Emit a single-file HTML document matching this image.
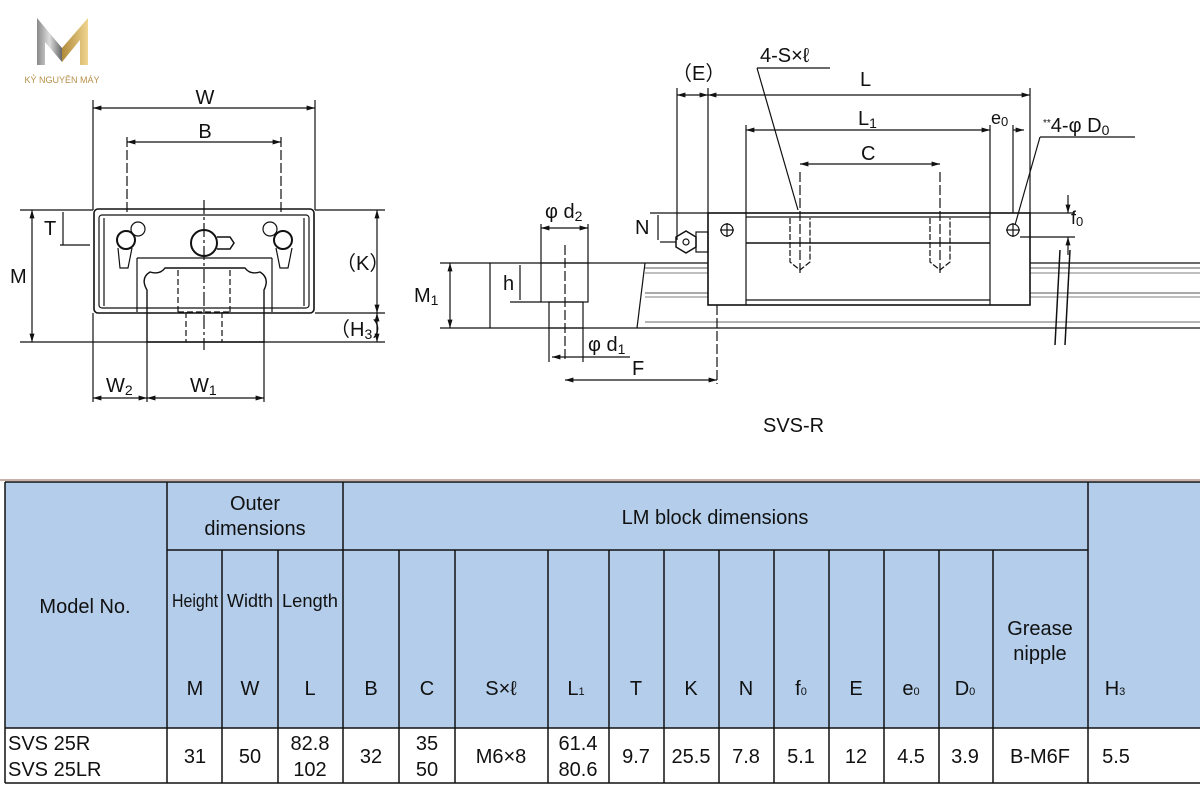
<!DOCTYPE html>
<html><head><meta charset="utf-8"><style>
html,body{margin:0;padding:0;background:#fff;width:1200px;height:800px;overflow:hidden}
svg{display:block}
text{font-family:"Liberation Sans",sans-serif;fill:#111}
</style></head><body>
<svg width="1200" height="800" viewBox="0 0 1200 800" xmlns="http://www.w3.org/2000/svg">
<defs>
<marker id="a" viewBox="0 0 10 10" refX="10" refY="5" markerWidth="7" markerHeight="7" orient="auto-start-reverse"><path d="M0,2 L10,5 L0,8z" fill="#111"/></marker>
<linearGradient id="g" x1="0" x2="1"><stop offset="0" stop-color="#888"/><stop offset=".5" stop-color="#ddd"/><stop offset="1" stop-color="#666"/></linearGradient>
<linearGradient id="gd" x1="0" x2="1"><stop offset="0" stop-color="#b08a3a"/><stop offset="1" stop-color="#f0d590"/></linearGradient>
</defs>
<!-- logo -->
<path d="M37,65 L37,18 L62,48 L62,62 L45,42 L45,65z" fill="url(#g)"/>
<path d="M62,48 L88,18 L88,65 L80,65 L80,40 L62,62z" fill="url(#gd)"/>
<text x="62" y="83" font-size="9" text-anchor="middle" style="fill:#b8904a">KỶ NGUYÊN MÁY</text>

<g stroke="#111" fill="none" stroke-width="1.2">
<!-- LEFT DRAWING -->
<line x1="93" y1="100" x2="93" y2="210"/><line x1="315" y1="100" x2="315" y2="210"/>
<line x1="93" y1="108" x2="315" y2="108" marker-start="url(#a)" marker-end="url(#a)"/>
<line x1="127" y1="137" x2="127" y2="215" stroke-dasharray="10,3"/><line x1="281" y1="137" x2="281" y2="215" stroke-dasharray="10,3"/>
<line x1="127" y1="142" x2="281" y2="142" marker-start="url(#a)" marker-end="url(#a)"/>
<rect x="94" y="209" width="220" height="104" rx="4" stroke-width="1.6"/>
<rect x="99" y="215" width="210" height="93" rx="3"/>
<line x1="104" y1="218" x2="104" y2="306"/><line x1="304" y1="218" x2="304" y2="306"/>
<line x1="137" y1="258" x2="272" y2="258"/>
<line x1="137" y1="258" x2="137" y2="312"/><line x1="272" y1="258" x2="272" y2="312"/>
<path d="M147,342 L147,290 Q140,278 150,272 Q160,275 165,268 L245,268 Q250,275 260,272 Q270,278 264,290 L264,342z" stroke-width="1.4"/>
<line x1="178" y1="270" x2="178" y2="312" stroke-dasharray="6,3"/><line x1="230" y1="270" x2="230" y2="312" stroke-dasharray="6,3"/>
<line x1="178" y1="312" x2="230" y2="312" stroke-dasharray="6,3"/>
<line x1="186" y1="312" x2="186" y2="342" stroke-dasharray="6,3"/><line x1="222" y1="312" x2="222" y2="342" stroke-dasharray="6,3"/>
<line x1="204" y1="200" x2="204" y2="350" stroke-dasharray="14,3,3,3"/>
<circle cx="204" cy="243" r="13" stroke-width="2"/><path d="M217,237 L230,237 L234,243 L230,249 L217,249" stroke-width="1.5"/>
<circle cx="126" cy="240" r="9" stroke-width="2"/><circle cx="283" cy="240" r="9" stroke-width="2"/>
<circle cx="138" cy="229" r="7"/><circle cx="270" cy="229" r="7"/>
<path d="M118,248 L120,268 L128,268 L132,248"/><path d="M276,248 L280,268 L288,268 L292,248"/>
<line x1="20" y1="210" x2="93" y2="210"/><line x1="315" y1="210" x2="385" y2="210"/>
<line x1="20" y1="342" x2="385" y2="342"/><line x1="315" y1="313" x2="385" y2="313"/>
<line x1="32" y1="210" x2="32" y2="342" marker-start="url(#a)" marker-end="url(#a)"/>
<line x1="60" y1="245" x2="90" y2="245"/>
<line x1="63" y1="212" x2="63" y2="245"/>
<line x1="377" y1="210" x2="377" y2="313" marker-start="url(#a)" marker-end="url(#a)"/>
<line x1="377" y1="313" x2="377" y2="342" marker-start="url(#a)" marker-end="url(#a)"/>
<line x1="93" y1="313" x2="93" y2="402"/><line x1="147" y1="342" x2="147" y2="402"/><line x1="264" y1="342" x2="264" y2="402"/>
<line x1="93" y1="398" x2="147" y2="398" marker-start="url(#a)" marker-end="url(#a)"/>
<line x1="147" y1="398" x2="264" y2="398" marker-start="url(#a)" marker-end="url(#a)"/>

<!-- RIGHT DRAWING -->
<line x1="490" y1="263" x2="1200" y2="263"/><line x1="490" y1="328" x2="1200" y2="328"/>
<line x1="490" y1="263" x2="490" y2="328"/>
<line x1="645" y1="268" x2="1200" y2="268" stroke="#777"/><line x1="645" y1="273" x2="1200" y2="273" stroke="#999"/>
<line x1="645" y1="293" x2="1200" y2="293" stroke="#777"/><line x1="645" y1="297" x2="1200" y2="297" stroke="#999"/>
<line x1="645" y1="322" x2="1200" y2="322" stroke="#888"/>
<path d="M645,263 L637,328"/>
<rect x="541" y="263" width="47" height="39"/>
<rect x="549" y="302" width="34" height="26"/>
<line x1="565" y1="245" x2="565" y2="360" stroke-dasharray="10,3"/>
<rect x="708" y="213" width="322" height="92" fill="#fff" stroke-width="1.6"/>
<line x1="746" y1="213" x2="746" y2="305"/><line x1="990" y1="213" x2="990" y2="305"/>
<line x1="746" y1="217" x2="990" y2="217"/><line x1="746" y1="243" x2="990" y2="243" stroke-width="1.6"/>
<line x1="746" y1="300" x2="990" y2="300"/>
<path d="M790,218 L790,262 L800,270 L810,262 L810,218" stroke-dasharray="6,2"/>
<path d="M930,218 L930,262 L940,270 L950,262 L950,218" stroke-dasharray="6,2"/>
<line x1="800" y1="172" x2="800" y2="275" stroke-dasharray="10,3"/><line x1="940" y1="172" x2="940" y2="275" stroke-dasharray="10,3"/>
<circle cx="727" cy="230" r="6"/><line x1="720" y1="230" x2="734" y2="230"/><line x1="727" y1="223" x2="727" y2="237"/>
<circle cx="1013" cy="230" r="6"/><line x1="1006" y1="230" x2="1020" y2="230"/><line x1="1013" y1="223" x2="1013" y2="237"/>
<path d="M676,237 L686,231 L696,237 L696,247 L686,253 L676,247z" stroke-width="1.5"/><circle cx="686" cy="242" r="3"/>
<rect x="696" y="232" width="12" height="20"/>
<line x1="677" y1="88" x2="677" y2="240"/><line x1="708" y1="88" x2="708" y2="213"/><line x1="1030" y1="88" x2="1030" y2="213"/>
<line x1="677" y1="95" x2="708" y2="95" marker-start="url(#a)" marker-end="url(#a)"/>
<line x1="708" y1="95" x2="1030" y2="95" marker-start="url(#a)" marker-end="url(#a)"/>
<line x1="746" y1="125" x2="746" y2="213"/><line x1="990" y1="125" x2="990" y2="213"/><line x1="1013" y1="125" x2="1013" y2="213"/>
<line x1="746" y1="130" x2="990" y2="130" marker-start="url(#a)" marker-end="url(#a)"/>
<line x1="1013" y1="130" x2="1024" y2="130" marker-end="url(#a)"/>
<line x1="800" y1="164" x2="940" y2="164" marker-start="url(#a)" marker-end="url(#a)"/>
<line x1="757" y1="68" x2="830" y2="68"/><line x1="757" y1="68" x2="798" y2="210"/>
<line x1="1040" y1="137" x2="1135" y2="137"/><line x1="1040" y1="137" x2="1015" y2="225"/>
<line x1="650" y1="213" x2="708" y2="213"/><line x1="660" y1="242" x2="676" y2="242"/>
<line x1="658" y1="215" x2="658" y2="240"/>
<line x1="1030" y1="213" x2="1075" y2="213"/><line x1="1020" y1="237" x2="1075" y2="237"/>
<line x1="1068" y1="195" x2="1068" y2="213" marker-end="url(#a)"/><line x1="1068" y1="255" x2="1068" y2="237" marker-end="url(#a)"/>
<path d="M1060,250 L1055,345 M1070,250 L1065,345" stroke-width="1.5"/>
<line x1="541" y1="224" x2="541" y2="263"/><line x1="588" y1="224" x2="588" y2="263"/>
<line x1="541" y1="228" x2="588" y2="228" marker-start="url(#a)" marker-end="url(#a)"/>
<line x1="510" y1="302" x2="541" y2="302"/>
<line x1="520" y1="265" x2="520" y2="300"/>
<line x1="440" y1="263" x2="490" y2="263"/><line x1="440" y1="328" x2="490" y2="328"/>
<line x1="450" y1="263" x2="450" y2="328" marker-start="url(#a)" marker-end="url(#a)"/>
<line x1="549" y1="328" x2="549" y2="362"/><line x1="583" y1="328" x2="583" y2="362"/>
<line x1="552" y1="357" x2="630" y2="357" marker-start="url(#a)"/>
<line x1="717" y1="305" x2="717" y2="384" stroke-dasharray="10,3"/>
<line x1="565" y1="380" x2="717" y2="380" marker-start="url(#a)" marker-end="url(#a)"/>
</g>

<g font-size="20">
<text x="205" y="104" text-anchor="middle">W</text>
<text x="205" y="138" text-anchor="middle">B</text>
<text x="44" y="235">T</text>
<text x="10" y="283">M</text>
<text x="336" y="270">（K）</text>
<text x="330" y="336">（H<tspan font-size="14" dy="3">3</tspan><tspan dy="-3">）</tspan></text>
<text x="106" y="392">W<tspan font-size="14" dy="3">2</tspan></text>
<text x="190" y="392">W<tspan font-size="14" dy="3">1</tspan></text>
<text x="672" y="80">（E）</text>
<text x="860" y="86">L</text>
<text x="858" y="125">L<tspan font-size="14" dy="3">1</tspan></text>
<text x="991" y="124" font-size="18">e<tspan font-size="13" dy="2">0</tspan></text>
<text x="861" y="160">C</text>
<text x="760" y="62">4-S×ℓ</text>
<text x="1043" y="132"><tspan font-size="10" dy="-6">**</tspan><tspan dy="6">4-φ D</tspan><tspan font-size="14" dy="3">0</tspan></text>
<text x="635" y="234">N</text>
<text x="1071" y="224" font-size="18">f<tspan font-size="13" dy="2">0</tspan></text>
<text x="545" y="218">φ d<tspan font-size="14" dy="3">2</tspan></text>
<text x="503" y="290">h</text>
<text x="414" y="302">M<tspan font-size="14" dy="3">1</tspan></text>
<text x="588" y="351">φ d<tspan font-size="14" dy="3">1</tspan></text>
<text x="632" y="375">F</text>
<text x="763" y="432">SVS-R</text>
</g>

<!-- TABLE -->
<line x1="0" y1="480" x2="1200" y2="480" stroke="#c9b0a8" stroke-width="2"/>
<rect x="5" y="482" width="1195" height="246" fill="#b3cdea"/>
<rect x="5" y="728" width="1195" height="55" fill="#fff"/>
<g stroke="#111" stroke-width="1.5" fill="none">
<line x1="5" y1="482" x2="1200" y2="482"/>
<line x1="5" y1="728" x2="1200" y2="728"/>
<line x1="5" y1="783" x2="1200" y2="783"/>
<line x1="167" y1="550" x2="1088" y2="550"/>
<line x1="5" y1="482" x2="5" y2="783"/>
<line x1="167" y1="482" x2="167" y2="783"/><line x1="343" y1="482" x2="343" y2="783"/><line x1="1088" y1="482" x2="1088" y2="783"/>
<path d="M222,550V783M278,550V783M399,550V783M455,550V783M548,550V783M609,550V783M664,550V783M719,550V783M774,550V783M829,550V783M884,550V783M939,550V783M993,550V783"/>
</g>
<g font-size="20" text-anchor="middle">
<text x="85" y="613">Model No.</text>
<text x="255" y="510">Outer</text><text x="255" y="535">dimensions</text>
<text x="715" y="524">LM block dimensions</text>
<text x="1040" y="635">Grease</text><text x="1040" y="660">nipple</text>
<g font-size="18"><text x="195" y="607" textLength="46" lengthAdjust="spacingAndGlyphs">Height</text><text x="250" y="607" textLength="46" lengthAdjust="spacingAndGlyphs">Width</text><text x="310" y="607" textLength="56" lengthAdjust="spacingAndGlyphs">Length</text></g>
<text x="195" y="695">M</text><text x="250" y="695">W</text><text x="310" y="695">L</text>
<text x="371" y="695">B</text><text x="427" y="695">C</text><text x="501" y="695">S×ℓ</text>
<text x="576" y="695">L<tspan font-size="11" dy="0">1</tspan></text>
<text x="636" y="695">T</text><text x="691" y="695">K</text><text x="746" y="695">N</text>
<text x="801" y="695">f<tspan font-size="11">0</tspan></text>
<text x="856" y="695">E</text>
<text x="911" y="695">e<tspan font-size="11">0</tspan></text>
<text x="965" y="695">D<tspan font-size="11">0</tspan></text>
<text x="1115" y="695">H<tspan font-size="11">3</tspan></text>
<text x="195" y="763">31</text><text x="250" y="763">50</text>
<text x="310" y="750">82.8</text><text x="310" y="776">102</text>
<text x="371" y="763">32</text>
<text x="427" y="750">35</text><text x="427" y="776">50</text>
<text x="501" y="763">M6×8</text>
<text x="578" y="750">61.4</text><text x="578" y="776">80.6</text>
<text x="636" y="763">9.7</text><text x="691" y="763">25.5</text><text x="746" y="763">7.8</text>
<text x="801" y="763">5.1</text><text x="856" y="763">12</text><text x="911" y="763">4.5</text>
<text x="965" y="763">3.9</text><text x="1040" y="763">B-M6F</text>
<text x="1116" y="763">5.5</text>
</g>
<g font-size="20"><text x="8" y="750">SVS 25R</text><text x="8" y="776">SVS 25LR</text></g>
</svg>
</body></html>
